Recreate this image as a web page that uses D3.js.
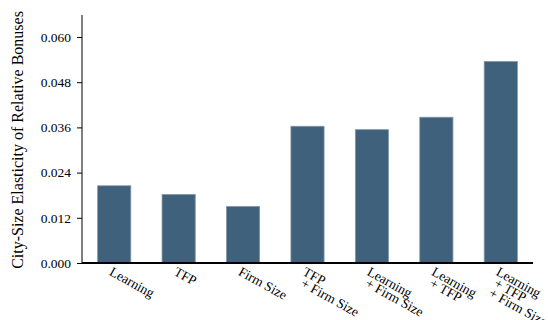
<!DOCTYPE html>
<html>
<head>
<meta charset="utf-8">
<script src="https://cdn.jsdelivr.net/npm/d3@7"></script>
<style>
  html, body { margin: 0; padding: 0; background: #fff; }
  svg { display: block; }
  .tick text { font-family: "Liberation Serif", "DejaVu Serif", serif; }
</style>
</head>
<body>
<svg id="chart" width="548" height="320"></svg>
<script>
// Specifications compared (each label line is a separate entry)
const categories = [
  ["Learning"],
  ["TFP"],
  ["Firm Size"],
  ["TFP", "+ Firm Size"],
  ["Learning", "+ Firm Size"],
  ["Learning", "+ TFP"],
  ["Learning", "+ TFP", "+ Firm Size"]
];
// City-size elasticity of relative bonuses for each specification
const elasticities = [0.0205, 0.0182, 0.0150, 0.0363, 0.0354, 0.0387, 0.0535];
// Y axis ticks
const yTicks = [0.000, 0.012, 0.024, 0.036, 0.048, 0.060];

const svg = d3.select("#chart");
const plotLeft = 82, plotRight = 533, plotTop = 15, plotBottom = 263;

const keys = categories.map(c => c.join(" "));
const x = d3.scaleBand().domain(keys).range([plotLeft, plotRight])
  .paddingInner(0.485).paddingOuter(0.2425);
const y = d3.scaleLinear().domain([0, 0.06]).range([plotBottom, 37]);

// Bars
svg.append("g").selectAll("rect")
  .data(elasticities)
  .join("rect")
  .attr("x", (d, i) => x(keys[i]))
  .attr("width", x.bandwidth())
  .attr("y", d => y(d))
  .attr("height", d => y(0) - y(d))
  .attr("fill", "#3f617b")
  .attr("stroke", "#7f98ab")
  .attr("stroke-width", 0.8);

// Y axis
const yAxis = svg.append("g")
  .attr("transform", `translate(${plotLeft},0)`)
  .call(d3.axisLeft(y).tickValues(yTicks).tickFormat(d3.format(".3f"))
    .tickSize(5).tickSizeOuter(0).tickPadding(6));
yAxis.select(".domain").remove();
yAxis.append("line")
  .attr("x1", 0).attr("x2", 0).attr("y1", plotTop).attr("y2", plotBottom)
  .attr("stroke", "#000").attr("stroke-width", 1);
yAxis.selectAll(".tick line").attr("stroke", "#000");
yAxis.selectAll(".tick text").attr("font-size", 13.5).attr("fill", "#000");

// X axis
const xAxis = svg.append("g")
  .attr("transform", `translate(0,${plotBottom})`)
  .call(d3.axisBottom(x).tickSize(0).tickFormat(""));
xAxis.select(".domain").remove();
xAxis.append("line")
  .attr("x1", plotLeft).attr("x2", plotRight).attr("y1", 0).attr("y2", 0)
  .attr("stroke", "#000").attr("stroke-width", 2.2);

// Rotated multi-line category labels
xAxis.selectAll(".tick").each(function(k, i) {
  const t = d3.select(this).append("text")
    .attr("transform", "translate(-1,3) rotate(29)")
    .attr("text-anchor", "start")
    .attr("font-family", "Liberation Serif, DejaVu Serif, serif")
    .attr("font-size", 13.5)
    .attr("fill", "#000");
  categories[i].forEach((line, j) => {
    t.append("tspan")
      .attr("x", j === 0 ? 0 : 4)
      .attr("dy", j === 0 ? "0.71em" : "0.82em")
      .text(line);
  });
});

// Y axis title
svg.append("text")
  .attr("transform", "translate(23,140) rotate(-90)")
  .attr("text-anchor", "middle")
  .attr("font-family", "Liberation Serif, DejaVu Serif, serif")
  .attr("font-size", 16)
  .attr("fill", "#000")
  .text("City-Size Elasticity of Relative Bonuses");
</script>
</body>
</html>
